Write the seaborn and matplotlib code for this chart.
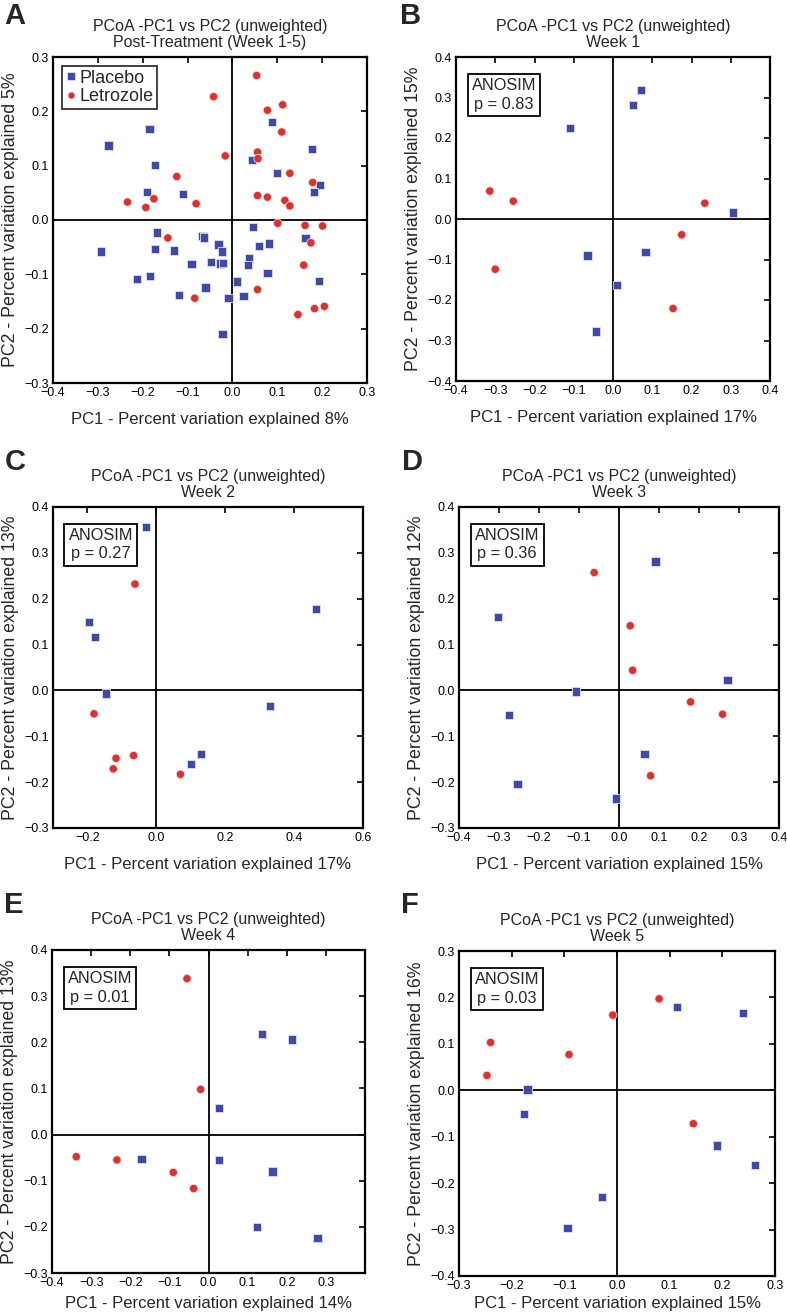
import pandas as pd
import matplotlib
matplotlib.use("Agg")
import matplotlib.pyplot as plt
import seaborn as sns

# style first, then the font list (set_style resets font.family)
sns.set_style("white")
plt.rcParams['font.family'] = ['Liberation Sans', 'DejaVu Sans']
plt.rcParams['axes.unicode_minus'] = True

blue = '#3f4aa8'
red = '#e0302a'
groups = ['Placebo', 'Letrozole']

# ---- panel A: all weeks ----
a_plac_x = [-0.276, -0.185, -0.173, -0.191, -0.110, 0.088, 0.044, 0.099, 0.178, 0.195, 0.182,
            -0.293, -0.168, -0.172, -0.213, -0.184, -0.130, -0.119, -0.091, -0.067, -0.063,
            -0.060, -0.048, -0.031, -0.023, -0.028, -0.021, -0.009, -0.022, 0.010, 0.025,
            0.046, 0.037, 0.035, 0.059, 0.081, 0.078, 0.163, 0.193]
a_plac_y = [0.137, 0.167, 0.101, 0.052, 0.048, 0.180, 0.111, 0.087, 0.131, 0.064, 0.052,
            -0.058, -0.023, -0.053, -0.109, -0.103, -0.056, -0.138, -0.081, -0.029, -0.032,
            -0.124, -0.077, -0.045, -0.058, -0.080, -0.079, -0.144, -0.210, -0.113, -0.140,
            -0.013, -0.071, -0.083, -0.048, -0.043, -0.097, -0.033, -0.112]
a_letr_x = [0.054, -0.042, 0.078, 0.112, 0.110, -0.016, 0.056, 0.057, -0.124, 0.128, 0.179,
            -0.234, -0.175, -0.193, -0.081, 0.056, 0.078, 0.117, 0.128,
            0.101, 0.162, 0.201, -0.144, 0.175, 0.159, 0.056, -0.084, 0.146, 0.183, 0.205]
a_letr_y = [0.266, 0.227, 0.202, 0.212, 0.162, 0.118, 0.125, 0.113, 0.080, 0.086, 0.069,
            0.033, 0.039, 0.023, 0.030, 0.045, 0.042, 0.036, 0.026,
            -0.006, -0.010, -0.011, -0.033, -0.042, -0.083, -0.128, -0.144, -0.174, -0.163, -0.159]

# ---- panel B: week 1 ----
b_plac_x = [-0.109, 0.051, 0.072, 0.305, -0.065, 0.083, 0.011, -0.044]
b_plac_y = [0.225, 0.282, 0.319, 0.016, -0.090, -0.081, -0.163, -0.278]
b_letr_x = [-0.314, -0.254, 0.234, 0.175, -0.300, 0.153]
b_letr_y = [0.069, 0.044, 0.039, -0.039, -0.124, -0.221]

# ---- panel C: week 2 ----
c_plac_x = [-0.030, -0.196, -0.178, -0.147, 0.463, 0.330, 0.100, 0.129]
c_plac_y = [0.356, 0.149, 0.117, -0.007, 0.178, -0.034, -0.160, -0.139]
c_letr_x = [-0.062, -0.181, -0.117, -0.125, -0.066, 0.070]
c_letr_y = [0.232, -0.051, -0.148, -0.171, -0.142, -0.183]

# ---- panel D: week 3 ----
d_plac_x = [0.091, -0.302, -0.108, -0.275, -0.254, -0.008, 0.064, 0.271]
d_plac_y = [0.281, 0.160, -0.002, -0.054, -0.204, -0.236, -0.139, 0.023]
d_letr_x = [-0.062, 0.028, 0.034, 0.179, 0.259, 0.079]
d_letr_y = [0.257, 0.141, 0.044, -0.025, -0.052, -0.186]

# ---- panel E: week 4 ----
e_plac_x = [0.136, 0.214, 0.026, -0.171, 0.026, 0.164, 0.124, 0.279]
e_plac_y = [0.218, 0.206, 0.058, -0.053, -0.055, -0.080, -0.201, -0.224]
e_letr_x = [-0.055, -0.020, -0.338, -0.234, -0.090, -0.038]
e_letr_y = [0.338, 0.098, -0.048, -0.055, -0.082, -0.117]

# ---- panel F: week 5 ----
f_plac_x = [0.114, 0.239, -0.170, -0.176, 0.190, 0.262, -0.029, -0.094]
f_plac_y = [0.179, 0.167, 0.002, -0.051, -0.119, -0.161, -0.230, -0.296]
f_letr_x = [0.080, -0.008, -0.240, -0.247, -0.091, 0.145]
f_letr_y = [0.197, 0.162, 0.103, 0.032, 0.077, -0.072]

letters = ['A', 'B', 'C', 'D', 'E', 'F']
subtitles = ['Post-Treatment (Week 1-5)', 'Week 1', 'Week 2', 'Week 3', 'Week 4', 'Week 5']
pc1_pct = [8, 17, 17, 15, 14, 15]
pc2_pct = [5, 15, 13, 12, 13, 16]
anosim_p = [None, '0.83', '0.27', '0.36', '0.01', '0.03']

xlims = [(-0.4, 0.3), (-0.4, 0.4), (-0.3, 0.6), (-0.4, 0.4), (-0.4, 0.4), (-0.3, 0.3)]
ylims = [(-0.3, 0.3), (-0.4, 0.4), (-0.3, 0.4), (-0.3, 0.4), (-0.3, 0.4), (-0.4, 0.3)]
xtick_sets = [[-0.4, -0.3, -0.2, -0.1, 0.0, 0.1, 0.2, 0.3],
              [-0.4, -0.3, -0.2, -0.1, 0.0, 0.1, 0.2, 0.3, 0.4],
              [-0.2, 0.0, 0.2, 0.4, 0.6],
              [-0.4, -0.3, -0.2, -0.1, 0.0, 0.1, 0.2, 0.3, 0.4],
              [-0.4, -0.3, -0.2, -0.1, 0.0, 0.1, 0.2, 0.3],
              [-0.3, -0.2, -0.1, 0.0, 0.1, 0.2, 0.3]]

panels = [(a_plac_x, a_plac_y, a_letr_x, a_letr_y),
          (b_plac_x, b_plac_y, b_letr_x, b_letr_y),
          (c_plac_x, c_plac_y, c_letr_x, c_letr_y),
          (d_plac_x, d_plac_y, d_letr_x, d_letr_y),
          (e_plac_x, e_plac_y, e_letr_x, e_letr_y),
          (f_plac_x, f_plac_y, f_letr_x, f_letr_y)]

# axes boxes in pixels (left, right, top, bottom) of a 787x1316 figure
W, H = 787, 1316
boxes = [(53, 367, 57, 383), (456, 770, 57, 381),
         (53, 363, 507, 828), (459, 779, 507, 828),
         (52, 365, 950, 1273), (459, 775, 951, 1276)]
# panel letter centres in pixels
letter_pos = [(15, 16), (411, 16), (15, 462), (412, 462), (14, 905), (410, 905)]
xlabel_pads = [9, 9, 9, 9, 5, 3]

fig = plt.figure(figsize=(W / 100, H / 100), dpi=100)

for i in range(6):
    l, r, t, b = boxes[i]
    ax = fig.add_axes([l / W, 1 - b / H, (r - l) / W, (b - t) / H])
    px, py, lx, ly = panels[i]
    df = pd.DataFrame({
        'PC1': px + lx,
        'PC2': py + ly,
        'group': ['Placebo'] * len(px) + ['Letrozole'] * len(lx),
    })
    ax.axhline(0, color='black', lw=1.3, zorder=1)
    ax.axvline(0, color='black', lw=1.3, zorder=1)
    sns.scatterplot(data=df, x='PC1', y='PC2', hue='group', style='group',
                    hue_order=groups, style_order=groups,
                    palette={'Placebo': blue, 'Letrozole': red},
                    markers={'Placebo': 's', 'Letrozole': 'o'},
                    s=36, edgecolor='#dde0f0', linewidth=0.6, ax=ax, zorder=3,
                    legend=(i == 0))
    ax.set_xlim(*xlims[i])
    ax.set_ylim(*ylims[i])
    ax.set_xticks(xtick_sets[i])
    ax.set_yticks([round(v * 0.1, 1) for v in range(int(round(ylims[i][0] * 10)), int(round(ylims[i][1] * 10)) + 1)])
    ax.tick_params(direction='in', length=4, width=1.2, top=True, right=True,
                   labelsize=9, pad=3, colors='black')
    for sp in ax.spines.values():
        sp.set_linewidth(1.6)
        sp.set_color('black')
    ax.set_xlabel('PC1 - Percent variation explained %d%%' % pc1_pct[i], fontsize=12,
                  labelpad=xlabel_pads[i])
    ax.set_ylabel('PC2 - Percent variation explained %d%%' % pc2_pct[i], fontsize=12.8, labelpad=4)
    ax.set_title('PCoA -PC1 vs PC2 (unweighted)\n' + subtitles[i], fontsize=11.5,
                 linespacing=1.1, pad=7)
    lxp, lyp = letter_pos[i]
    fig.text(lxp / W, 1 - lyp / H, letters[i], fontsize=21,
             fontweight='bold', va='center', ha='center')

    if i == 0:
        leg = ax.legend(loc='upper left', fontsize=13, frameon=True, fancybox=False,
                        handletextpad=0.15, borderpad=0.2, labelspacing=0.1,
                        borderaxespad=0.5, markerscale=0.85, handlelength=0.6)
        leg.get_frame().set_edgecolor('black')
        leg.get_frame().set_linewidth(1.3)
        leg.set_title(None)
    else:
        ax.text(0.05, 0.935, 'ANOSIM\np = ' + anosim_p[i], transform=ax.transAxes,
                fontsize=11.8, ha='left', va='top', linespacing=1.3, multialignment='center',
                bbox=dict(boxstyle='square,pad=0.25', fc='white', ec='black', lw=1.3))

fig.savefig('out.png', dpi=100)
